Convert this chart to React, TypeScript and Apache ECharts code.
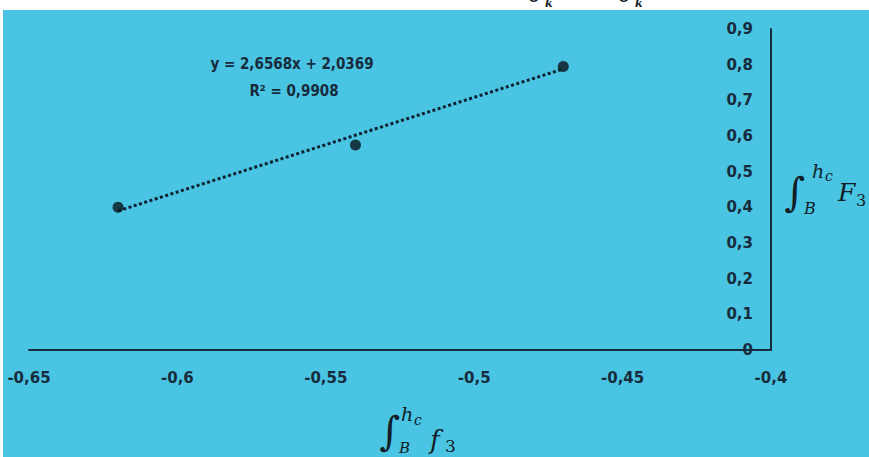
import React, { useEffect, useRef } from "react";
import * as echarts from "echarts";

const pointX = [-0.62, -0.54, -0.47];
const pointY = [0.4, 0.575, 0.795];
const trendX = [-0.62, -0.47];
const trendY = [0.39, 0.788];
const equationLines = ["y = 2,6568x + 2,0369", "R² = 0,9908"];

const BLUE = "#49C4E2";
const INK = "#182b3c";
const fmt = (v: number) => String(+v.toFixed(2)).replace(".", ",");

export default function App() {
  const ref = useRef<HTMLDivElement>(null);
  useEffect(() => {
    const chart = echarts.init(ref.current!, null, { renderer: "svg" });
    const serif = '"DejaVu Serif", serif';
    const t = (text: string, x: number, y: number, size: number, italic: boolean, align = "left", extra: any = {}) => ({
      type: "text",
      x,
      y,
      z: 10,
      style: {
        text,
        fontSize: size,
        fontFamily: extra.family || serif,
        fontStyle: italic ? "italic" : "normal",
        fontWeight: extra.weight || "normal",
        fill: extra.fill || "#121d28",
        align,
        verticalAlign: extra.va || "middle",
      },
    });
    chart.setOption({
      animation: false,
      backgroundColor: "#ffffff",
      grid: { left: 29, right: 98, top: 29, bottom: 107, containLabel: false },
      xAxis: {
        type: "value",
        min: -0.65,
        max: -0.4,
        interval: 0.05,
        axisLine: { show: true, onZero: false, lineStyle: { color: INK, width: 2 } },
        axisTick: { show: false },
        splitLine: { show: false },
        axisLabel: {
          margin: 20,
          formatter: fmt,
          color: INK,
          fontSize: 15,
          fontWeight: "bold",
          fontFamily: '"DejaVu Sans"',
        },
      },
      yAxis: {
        type: "value",
        position: "right",
        min: 0,
        max: 0.9,
        interval: 0.1,
        axisLine: { show: true, lineStyle: { color: INK, width: 2 } },
        axisTick: { show: false },
        splitLine: { show: false },
        axisLabel: {
          inside: true,
          margin: 18,
          formatter: fmt,
          color: INK,
          fontSize: 15,
          fontWeight: "bold",
          fontFamily: '"DejaVu Sans"',
        },
      },
      graphic: [
        { type: "rect", z: -10, shape: { x: 3, y: 10, width: 866, height: 447 }, style: { fill: BLUE } },
        t(equationLines[0], 292, 64, 15, false, "center", { family: '"DejaVu Sans Condensed", "DejaVu Sans"', weight: "bold", fill: INK }),
        t(equationLines[1], 294, 91, 15, false, "center", { family: '"DejaVu Sans Condensed", "DejaVu Sans"', weight: "bold", fill: INK }),
        // bottom axis title
        t("∫", 390, 431, 40, true, "center"),
        t("h", 401, 414, 19, true),
        t("c", 414, 420, 14, true),
        t("B", 399, 448, 15, true),
        t("f", 430, 440, 26, true),
        t("3", 445, 446, 17, false),
        // right axis title
        t("∫", 795, 192, 40, true, "center"),
        t("h", 812, 171, 19, true),
        t("c", 825, 176, 14, true),
        t("B", 804, 208, 16, true),
        t("F", 838, 192, 25, true),
        t("3", 856, 200, 16, false),
        // clipped text at the very top
        t("ϑ", 527, 5, 20, true, "left", { va: "bottom", weight: "bold" }),
        t("k", 545, 9, 11, true, "left", { va: "bottom", weight: "bold" }),
        t("ϑ", 617, 5, 20, true, "left", { va: "bottom", weight: "bold" }),
        t("k", 635, 9, 11, true, "left", { va: "bottom", weight: "bold" }),
      ],
      series: [
        {
          type: "line",
          data: trendX.map((x, i) => [x, trendY[i]]),
          showSymbol: false,
          symbol: "none",
          lineStyle: { color: "#0f2232", width: 3, type: [3, 2.5], cap: "butt" },
          z: 2,
        },
        {
          type: "scatter",
          data: pointX.map((x, i) => [x, pointY[i]]),
          symbol: "circle",
          symbolSize: 11,
          itemStyle: { color: "#0a141d" },
          z: 3,
        },
      ],
    });
    return () => chart.dispose();
  }, []);
  return <div ref={ref} style={{ position: "fixed", left: 0, top: 0, width: 869, height: 457 }} />;
}
